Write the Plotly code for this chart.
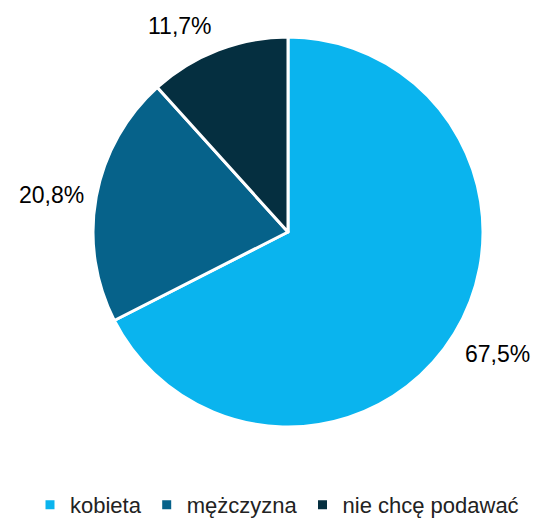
import math
import plotly.graph_objects as go

labels = ['kobieta', 'mężczyzna', 'nie chcę podawać']
values = [67.5, 20.8, 11.7]
colors = ['#0AB4EE', '#06628A', '#052F40']

W, H = 539, 522
ML, MR, MT, MB = 93, 0, 37, 95
PW, PH = W - ML - MR, H - MT - MB   # plot area
D = 390                             # pie diameter in px

fig = go.Figure(
    data=[
        go.Pie(
            labels=labels,
            values=values,
            sort=False,
            direction='clockwise',
            rotation=0,
            marker=dict(colors=colors, line=dict(color='white', width=3)),
            textinfo='none',
            hoverinfo='label+percent',
            domain=dict(x=[0, D / PW], y=[0, 1]),
        )
    ]
)

# data labels outside the slices, placed from the slice mid angles
total = sum(values)
cum = 0
for v in values:
    mid = (cum + v / 2) / total * 2 * math.pi
    cum += v
    s, c = math.sin(mid), math.cos(mid)
    r = 205
    xa = 'left' if s > 0.1 else ('right' if s < -0.1 else 'center')
    ya = 'top' if c < -0.3 else ('bottom' if c > 0.3 else 'middle')
    fig.add_annotation(
        x=(D / 2 + r * s) / PW, y=(PH / 2 + r * c) / PH, xref='paper', yref='paper',
        text='{:.1f}%'.format(v / total * 100).replace('.', ','),
        showarrow=False, xanchor=xa, yanchor=ya,
        font=dict(size=23, color='black'),
    )

fig.update_layout(
    width=W, height=H,
    separators=', ',
    font=dict(family='Liberation Sans, Arial, sans-serif', color='#222222'),
    margin=dict(l=ML, r=MR, t=MT, b=MB, autoexpand=False),
    paper_bgcolor='white',
    plot_bgcolor='white',
    showlegend=True,
    legend=dict(
        orientation='h',
        x=(30 - ML) / PW, xanchor='left',
        y=-(505 - MT - PH) / PH, yanchor='middle',
        font=dict(size=22, color='#222222'),
    ),
)

fig.write_html("out.html", config={'displayModeBar': False},
               post_script="document.body.style.margin='0';")
